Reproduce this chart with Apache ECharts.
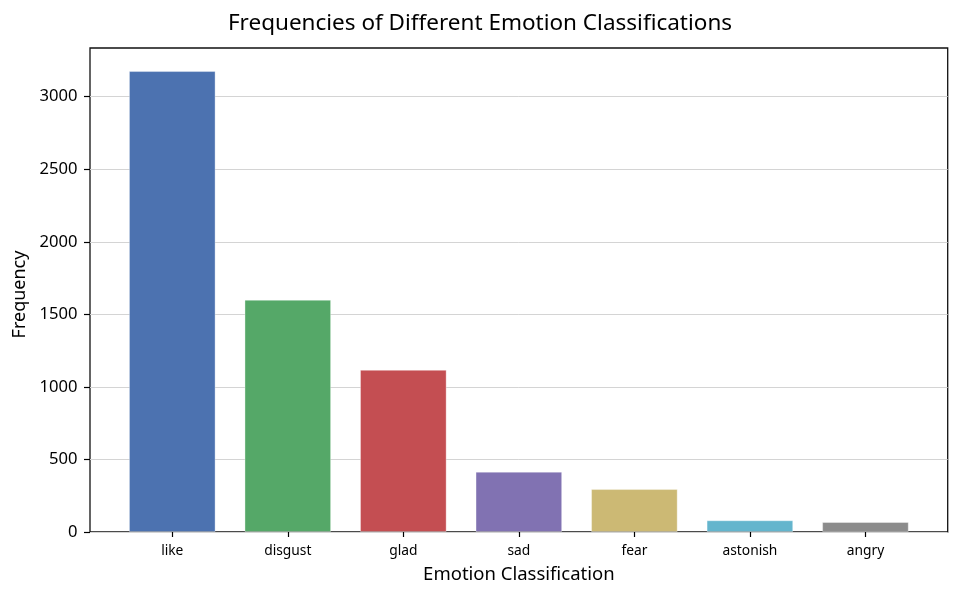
<!DOCTYPE html>
<html>
<head>
<meta charset="utf-8">
<script src="https://cdn.jsdelivr.net/npm/echarts@6/dist/echarts.min.js"></script>
<style>html,body{margin:0;padding:0;background:#fff}#c{width:960px;height:599px}</style>
</head>
<body>
<div id="c"></div>
<script>
const categories = ['like', 'disgust', 'glad', 'sad', 'fear', 'astonish', 'angry'];
const frequencies = [3177, 1601, 1118, 416, 296, 81, 69];
const barColors = ['#4C72B0', '#55A868', '#C44E52', '#8172B2', '#CCB974', '#64B5CD', '#8C8C8C'];
const yTicks = [0, 500, 1000, 1500, 2000, 2500, 3000];

const FONT = 'Noto Sans';
const yMax = Math.max(...frequencies) * 1.05;

const chart = echarts.init(document.getElementById('c'), null, {renderer: 'canvas'});
chart.setOption({
  animation: false,
  textStyle: {fontFamily: FONT, color: '#000'},
  title: {
    text: 'Frequencies of Different Emotion Classifications',
    left: 'center', top: 7,
    textStyle: {fontFamily: FONT, fontSize: 22.5, fontWeight: 'normal', color: '#000'}
  },
  grid: [
    {left: 90, right: 12.3, top: 48, bottom: 67, show: true, borderColor: '#111', borderWidth: 1.3, backgroundColor: 'transparent'},
    {left: 114.5, right: 36.8, top: 48, bottom: 67}
  ],
  xAxis: [
    {gridIndex: 0, type: 'value', min: 0, max: 1, show: false},
    {
      gridIndex: 1, type: 'category', data: categories,
      name: 'Emotion Classification', nameLocation: 'middle', nameGap: 33,
      nameTextStyle: {fontFamily: FONT, fontSize: 18.5, color: '#000'},
      axisLine: {show: false},
      axisTick: {show: true, alignWithLabel: true, length: 5, lineStyle: {color: '#000', width: 1.2}},
      axisLabel: {fontFamily: FONT, fontSize: 13.8, color: '#000', margin: 12}
    }
  ],
  yAxis: [
    {
      gridIndex: 0, type: 'value', min: 0, max: yMax, interval: 500,
      name: 'Frequency', nameLocation: 'middle', nameGap: 54,
      nameTextStyle: {fontFamily: FONT, fontSize: 18, color: '#000', padding: [0, 9, 0, 0]},
      axisLine: {show: false},
      axisTick: {show: true, length: 6, lineStyle: {color: '#000', width: 1.2}, customValues: yTicks},
      axisLabel: {fontFamily: FONT, fontSize: 16.6, color: '#000', margin: 12.5, customValues: yTicks, formatter: v => String(v)},
      splitLine: {show: true, lineStyle: {color: '#d4d4d4', width: 1}}
    },
    {gridIndex: 1, type: 'value', min: 0, max: yMax, show: false, splitLine: {show: false}}
  ],
  series: [{
    type: 'bar', xAxisIndex: 1, yAxisIndex: 1,
    barWidth: '75%',
    data: frequencies.map((v, i) => ({value: v, itemStyle: {color: barColors[i], borderColor: 'rgba(255,255,255,0.35)', borderWidth: 1}}))
  }]
});
</script>
</body>
</html>
